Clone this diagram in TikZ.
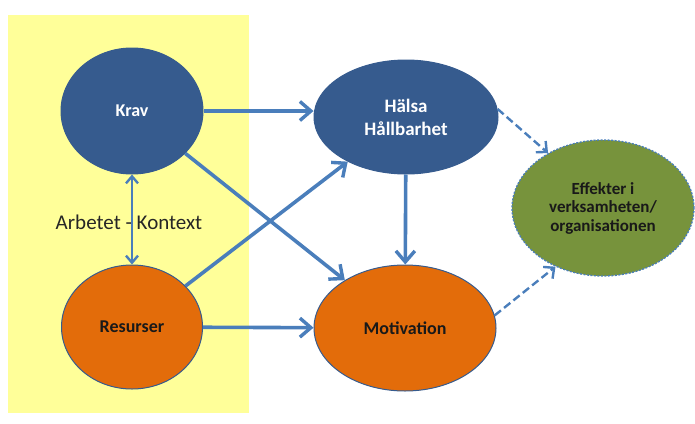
\documentclass[tikz,border=0pt]{standalone}
\usepackage{fontspec}
\setmainfont{Carlito}
\usetikzlibrary{arrows.meta, shapes.geometric}

\definecolor{kravblue}{HTML}{365B8E}
\definecolor{resorange}{HTML}{E36C0A}
\definecolor{effgreen}{HTML}{77933C}
\definecolor{linkblue}{HTML}{4A7EBB}
\definecolor{bgyellow}{HTML}{FFFF99}

\begin{document}
\begin{tikzpicture}[x=1pt, y=-1pt]

    % Styles
    \tikzset{
        blob/.style={ellipse, draw=kravblue, line width=1pt, inner sep=0pt, align=center, font=\bfseries},
        bluenode/.style={blob, fill=kravblue, text=white},
        orangenode/.style={blob, fill=resorange, text=black!90},
        greennode/.style={blob, fill=effgreen, text=black!90, draw=linkblue, dash pattern=on 2pt off 1.5pt, line width=1.3pt},
        arrow/.style={-{Straight Barb[length=11pt, width=19pt, line width=3.4pt]}, line width=3.6pt, linkblue},
        twoway/.style={{Straight Barb[length=7pt, width=12pt, line width=2.4pt]}-{Straight Barb[length=7pt, width=12pt, line width=2.4pt]}, line width=2.4pt, linkblue},
        dasharrow/.style={-{Straight Barb[length=8pt, width=15pt, line width=2.4pt]}, line width=2.4pt, linkblue, dash pattern=on 8pt off 4pt}
    }

    \useasboundingbox (0,0) rectangle (695,423);

    % Background context
    \fill[bgyellow] (8,15) rectangle (249,413);

    % Left column
    \node[bluenode, minimum width=142pt, minimum height=126pt, font=\bfseries\fontsize{18}{20}\selectfont] (krav) at (132,111) {Krav};
    \node[orangenode, minimum width=141pt, minimum height=124pt, font=\bfseries\fontsize{18}{20}\selectfont] (resurser) at (132,327) {Resurser};

    % Middle column
    \node[bluenode, minimum width=184pt, minimum height=114pt, font=\bfseries\fontsize{19}{23}\selectfont] (halsa) at (406,117) {Hälsa\\Hållbarhet};
    \node[orangenode, minimum width=182pt, minimum height=126pt, font=\bfseries\fontsize{18}{20}\selectfont] (motivation) at (405,328) {Motivation};

    % Right
    \node[greennode, minimum width=182pt, minimum height=136pt, font=\bfseries\fontsize{17}{18.5}\selectfont] (effekter) at (603,208) {Effekter i\\verksamheten/\\organisationen};

    % Label
    \node[font=\fontsize{21}{23}\selectfont, text=black!85] (kontext) at (129,222) {Arbetet - Kontext};

    % Arrows
    \draw[twoway] (krav) -- (resurser);
    \draw[arrow] (krav.east) -- (krav.east -| halsa.west);
    \draw[arrow] (krav) -- (motivation);
    \draw[arrow] (resurser) -- (halsa);
    \draw[arrow] (resurser) -- (motivation);
    \draw[arrow] (halsa) -- (motivation);
    \draw[dasharrow] (halsa.5) -- (effekter.135);
    \draw[dasharrow] (motivation.8) -- (effekter.-129);

\end{tikzpicture}
\end{document}
